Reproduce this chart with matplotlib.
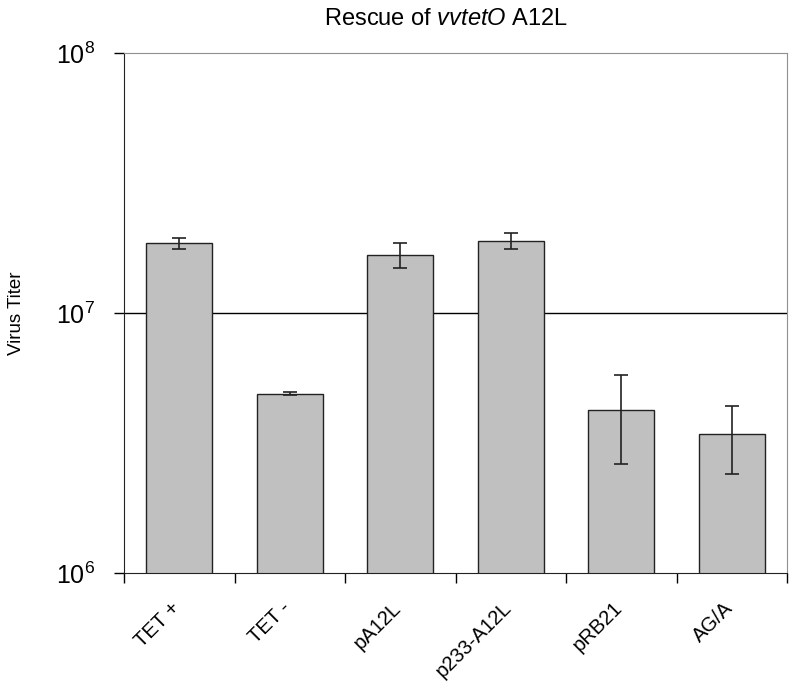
import numpy as np
import matplotlib.pyplot as plt
import matplotlib.transforms as mtransforms

plt.rcParams['font.family'] = ['Liberation Sans', 'DejaVu Sans']
plt.rcParams['mathtext.fontset'] = 'custom'
plt.rcParams['mathtext.rm'] = 'Liberation Sans'
plt.rcParams['mathtext.it'] = 'Liberation Sans:italic'

# data
samples = ["TET +", "TET -", "pA12L", "p233-A12L", "pRB21", "AG/A"]
titer = [1.87e7, 4.90e6, 1.67e7, 1.89e7, 4.23e6, 3.43e6]
err_high = [1.95e7, 4.99e6, 1.87e7, 2.03e7, 5.78e6, 4.41e6]
err_low = [1.76e7, 4.84e6, 1.49e7, 1.76e7, 2.64e6, 2.40e6]

x = np.arange(len(samples))
yerr = [np.array(titer) - np.array(err_low), np.array(err_high) - np.array(titer)]

fig = plt.figure(figsize=(7.95, 7.0), dpi=100)
ax = fig.add_axes([0.156, 0.181, 0.834, 0.743])

ax.axhline(1e7, color='black', lw=1.0, zorder=1)
ax.bar(x, titer, width=0.6, color='#c0c0c0', edgecolor='#222222', lw=1.0, zorder=2)
ax.errorbar(x, titer, yerr=yerr, fmt='none', ecolor='#222222', elinewidth=1.2,
            capsize=5, capthick=1.2, zorder=3)

ax.set_yscale('log')
ax.set_ylim(1e6, 1e8)
ax.set_xlim(-0.5, len(samples) - 0.5)

# y ticks
ax.set_yticks([1e6, 1e7, 1e8])
ax.set_yticklabels([r'$10^{6}$', r'$10^{7}$', r'$10^{8}$'], fontsize=18)
ax.yaxis.set_minor_locator(plt.NullLocator())
ax.tick_params(axis='y', direction='out', length=7, width=1, pad=14)

# x ticks: labels at centres, tick marks at category boundaries
ax.set_xticks(x)
ax.set_xticklabels(samples, rotation=45, ha='right', rotation_mode='anchor', fontsize=14.5)
ax.tick_params(axis='x', which='major', length=0, pad=18)
ax.set_xticks(np.arange(len(samples) + 1) - 0.5, minor=True)
ax.tick_params(axis='x', which='minor', direction='out', length=7, width=1)
shift = mtransforms.ScaledTranslation(-9 / 100, 0, fig.dpi_scale_trans)
for lab in ax.get_xticklabels():
    lab.set_transform(lab.get_transform() + shift)

ax.spines['top'].set_color('#909090')
ax.spines['right'].set_color('#909090')
for s in ['left', 'bottom']:
    ax.spines[s].set_color('#222222')

ax.set_ylabel("Virus Titer", fontsize=13.5, labelpad=22)
ax.set_title(r"Rescue of $\mathit{vvtetO}$ A12L", fontsize=17, pad=20, x=0.485)

fig.savefig("out.png", dpi=100)
